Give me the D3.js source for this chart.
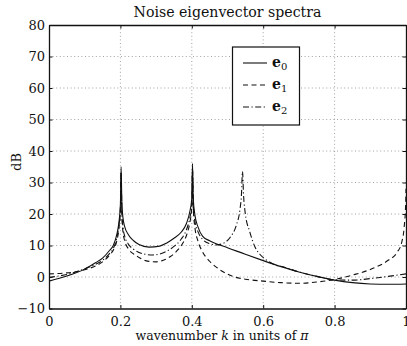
<!DOCTYPE html>
<html><head><meta charset="utf-8">
<script src="https://cdn.jsdelivr.net/npm/d3@7"></script>
<style>
html,body{margin:0;padding:0;background:#fff;overflow:hidden}
text{font-family:"DejaVu Serif",serif;fill:#111}
</style></head>
<body>
<svg id="chart" width="407" height="346"></svg>
<script>
// ---- data ----
const title = "Noise eigenvector spectra";
const yLabel = "dB";
const xTicks = [0, 0.2, 0.4, 0.6, 0.8, 1];
const xTickLabels = ["0", "0.2", "0.4", "0.6", "0.8", "1"];
const yTicks = [-10, 0, 10, 20, 30, 40, 50, 60, 70, 80];
const yTickLabels = ["\u221210", "0", "10", "20", "30", "40", "50", "60", "70", "80"];
const seriesNames = ["0", "1", "2"];

const e0_k  = [0, 0.05, 0.1, 0.13, 0.15, 0.17, 0.18, 0.19, 0.196, 0.2, 0.202, 0.204, 0.207, 0.212, 0.222, 0.237, 0.252, 0.28, 0.31, 0.33, 0.35, 0.37, 0.385, 0.394, 0.4, 0.402, 0.404, 0.409, 0.417, 0.43, 0.45, 0.47, 0.5, 0.55, 0.6, 0.65, 0.7, 0.75, 0.8, 0.85, 0.9, 0.95, 1.0];
const e0_dB = [-1.3, 0.3, 2.5, 4.5, 6, 8.5, 10, 13.5, 17.5, 23, 35, 24, 19, 16, 13.5, 11.5, 10.3, 9.5, 9.8, 10.8, 12.3, 14.2, 17, 20.5, 25, 36, 25, 19.5, 16, 13, 11.5, 10.5, 9.3, 7.2, 5.2, 3.3, 1.6, 0.2, -1, -1.8, -2.2, -2.3, -2.2];

const e1_k  = [0, 0.05, 0.1, 0.13, 0.15, 0.17, 0.18, 0.19, 0.196, 0.2, 0.202, 0.204, 0.207, 0.212, 0.222, 0.237, 0.252, 0.27, 0.3, 0.32, 0.34, 0.36, 0.375, 0.386, 0.394, 0.4, 0.402, 0.404, 0.409, 0.417, 0.43, 0.45, 0.47, 0.5, 0.52, 0.55, 0.6, 0.65, 0.7, 0.75, 0.8, 0.85, 0.9, 0.95, 0.975, 0.988, 0.995, 0.999, 1.0];
const e1_dB = [1.0, 1.3, 2.3, 3.5, 4.8, 7, 8.5, 11.5, 15.5, 21, 33, 20, 14.5, 11.5, 9, 7.3, 6.2, 5.2, 4.8, 5.3, 6.5, 8.5, 10.8, 13.5, 17, 22, 34, 22, 15.5, 11.5, 8, 5, 3, 0.9, 0, -0.7, -1.3, -1.8, -2, -1.6, -0.8, 0.6, 2.4, 5.3, 7.8, 11, 16, 23, 28];

const e2_k  = [0, 0.05, 0.1, 0.13, 0.15, 0.17, 0.18, 0.19, 0.196, 0.2, 0.202, 0.204, 0.207, 0.212, 0.222, 0.237, 0.252, 0.27, 0.29, 0.31, 0.33, 0.35, 0.37, 0.385, 0.394, 0.4, 0.402, 0.404, 0.409, 0.417, 0.43, 0.45, 0.47, 0.49, 0.51, 0.525, 0.535, 0.539, 0.542, 0.545, 0.55, 0.562, 0.577, 0.59, 0.61, 0.63, 0.66, 0.7, 0.75, 0.8, 0.85, 0.9, 0.95, 1.0];
const e2_dB = [-0.1, 0.8, 2.6, 4, 5.3, 7.5, 9, 12.5, 16.5, 21, 33, 21, 16, 13, 10.5, 8.8, 7.8, 7.2, 7.0, 7.3, 8.2, 9.7, 12, 15, 18.5, 23, 34, 23, 17.5, 14.5, 12, 10.6, 10.2, 10.8, 13, 16.5, 21.5, 26, 33.5, 26, 20, 14.5, 9.5, 7.3, 5.3, 4.0, 3.1, 1.6, 0.2, -0.9, -1, -0.5, 0.2, 1.0];

// ---- layout ----
const L = 49, R = 406, T = 25, B = 308.5;
const svg = d3.select("#chart");
const x = d3.scaleLinear().domain([0, 1]).range([L, R]);
const y = d3.scaleLinear().domain([-10, 80]).range([B, T]);

function fitText(sel, target) {
  const fs = parseFloat(sel.attr("font-size"));
  const len = sel.node().getComputedTextLength();
  if (len > 0) sel.attr("font-size", (fs * target / len).toFixed(2));
}

// grid
const grid = svg.append("g").attr("stroke", "#8a8a8a").attr("stroke-width", 0.8).attr("stroke-dasharray", "1,2.6");
grid.selectAll("line.gx").data(xTicks.filter(d => d > 0 && d < 1)).enter().append("line")
  .attr("x1", d => x(d)).attr("x2", d => x(d)).attr("y1", T).attr("y2", B);
grid.selectAll("line.gy").data(yTicks.filter(d => d > -10 && d < 80)).enter().append("line")
  .attr("y1", d => y(d)).attr("y2", d => y(d)).attr("x1", L).attr("x2", R);

// curves
svg.append("clipPath").attr("id", "clip").append("rect")
  .attr("x", L).attr("y", T).attr("width", R - L).attr("height", B - T);
const line = d3.line().x(d => x(d[0])).y(d => y(d[1])).curve(d3.curveMonotoneX);
const series = [
  {k: e0_k, v: e0_dB, dash: null},
  {k: e1_k, v: e1_dB, dash: "5,3.5"},
  {k: e2_k, v: e2_dB, dash: "6,2.5,1.2,2.5"}
];
const plotG = svg.append("g").attr("clip-path", "url(#clip)");
series.forEach(s => {
  plotG.append("path").datum(s.k.map((k, i) => [k, s.v[i]]))
    .attr("d", line).attr("fill", "none").attr("stroke", "#111")
    .attr("stroke-width", 1.1).attr("stroke-dasharray", s.dash);
});

// axes (MATLAB-like box with inward ticks)
const tl = 3.5;
const axL = d3.axisLeft(y).tickValues(yTicks).tickSizeInner(-tl).tickSizeOuter(0).tickPadding(4)
  .tickFormat((d, i) => yTickLabels[i]);
const axR = d3.axisRight(y).tickValues(yTicks).tickSizeInner(-tl).tickSizeOuter(0).tickFormat("");
const axB = d3.axisBottom(x).tickValues(xTicks).tickSizeInner(-tl).tickSizeOuter(0).tickPadding(8)
  .tickFormat((d, i) => xTickLabels[i]);
const axT = d3.axisTop(x).tickValues(xTicks).tickSizeInner(-tl).tickSizeOuter(0).tickFormat("");
function style(g) {
  g.selectAll("path.domain").attr("stroke", "#111").attr("stroke-width", 1.3);
  g.selectAll(".tick line").attr("stroke", "#111").attr("stroke-width", 1);
  g.selectAll(".tick text").attr("font-family", "DejaVu Serif").attr("font-size", 13).attr("fill", "#111");
}
svg.append("g").attr("transform", `translate(${L},0)`).call(axL).call(style);
svg.append("g").attr("transform", `translate(${R},0)`).call(axR).call(style);
svg.append("g").attr("transform", `translate(0,${B})`).call(axB).call(style);
svg.append("g").attr("transform", `translate(0,${T})`).call(axT).call(style);

// title
const tt = svg.append("text").attr("x", (L + R) / 2).attr("y", 17).attr("text-anchor", "middle")
  .attr("font-size", 14).text(title);
fitText(tt, 188);

// x label
const xl = svg.append("text").attr("x", 222).attr("y", 340).attr("text-anchor", "middle").attr("font-size", 13);
xl.append("tspan").text("wavenumber ");
xl.append("tspan").attr("font-style", "italic").text("k");
xl.append("tspan").text(" in units of ");
xl.append("tspan").attr("font-style", "italic").text("\u03c0");
fitText(xl, 173);

// y label
svg.append("text").attr("transform", "translate(21,162) rotate(-90)").attr("text-anchor", "middle")
  .attr("font-size", 13).text(yLabel);

// legend
const lg = svg.append("g");
lg.append("rect").attr("x", 232.5).attr("y", 47).attr("width", 67).attr("height", 78)
  .attr("fill", "#fff").attr("stroke", "#111").attr("stroke-width", 1.2);
const legY = [63, 85, 107];
series.forEach((s, i) => {
  lg.append("line").attr("x1", 243).attr("x2", 267).attr("y1", legY[i]).attr("y2", legY[i])
    .attr("stroke", "#111").attr("stroke-width", 1.1).attr("stroke-dasharray", s.dash);
  const t = lg.append("text").attr("x", 272).attr("y", legY[i] + 4).attr("font-size", 14);
  t.append("tspan").attr("font-weight", "bold").text("e");
  t.append("tspan").attr("font-size", 10).attr("dy", 3).text(seriesNames[i]);
});
</script>
</body></html>
